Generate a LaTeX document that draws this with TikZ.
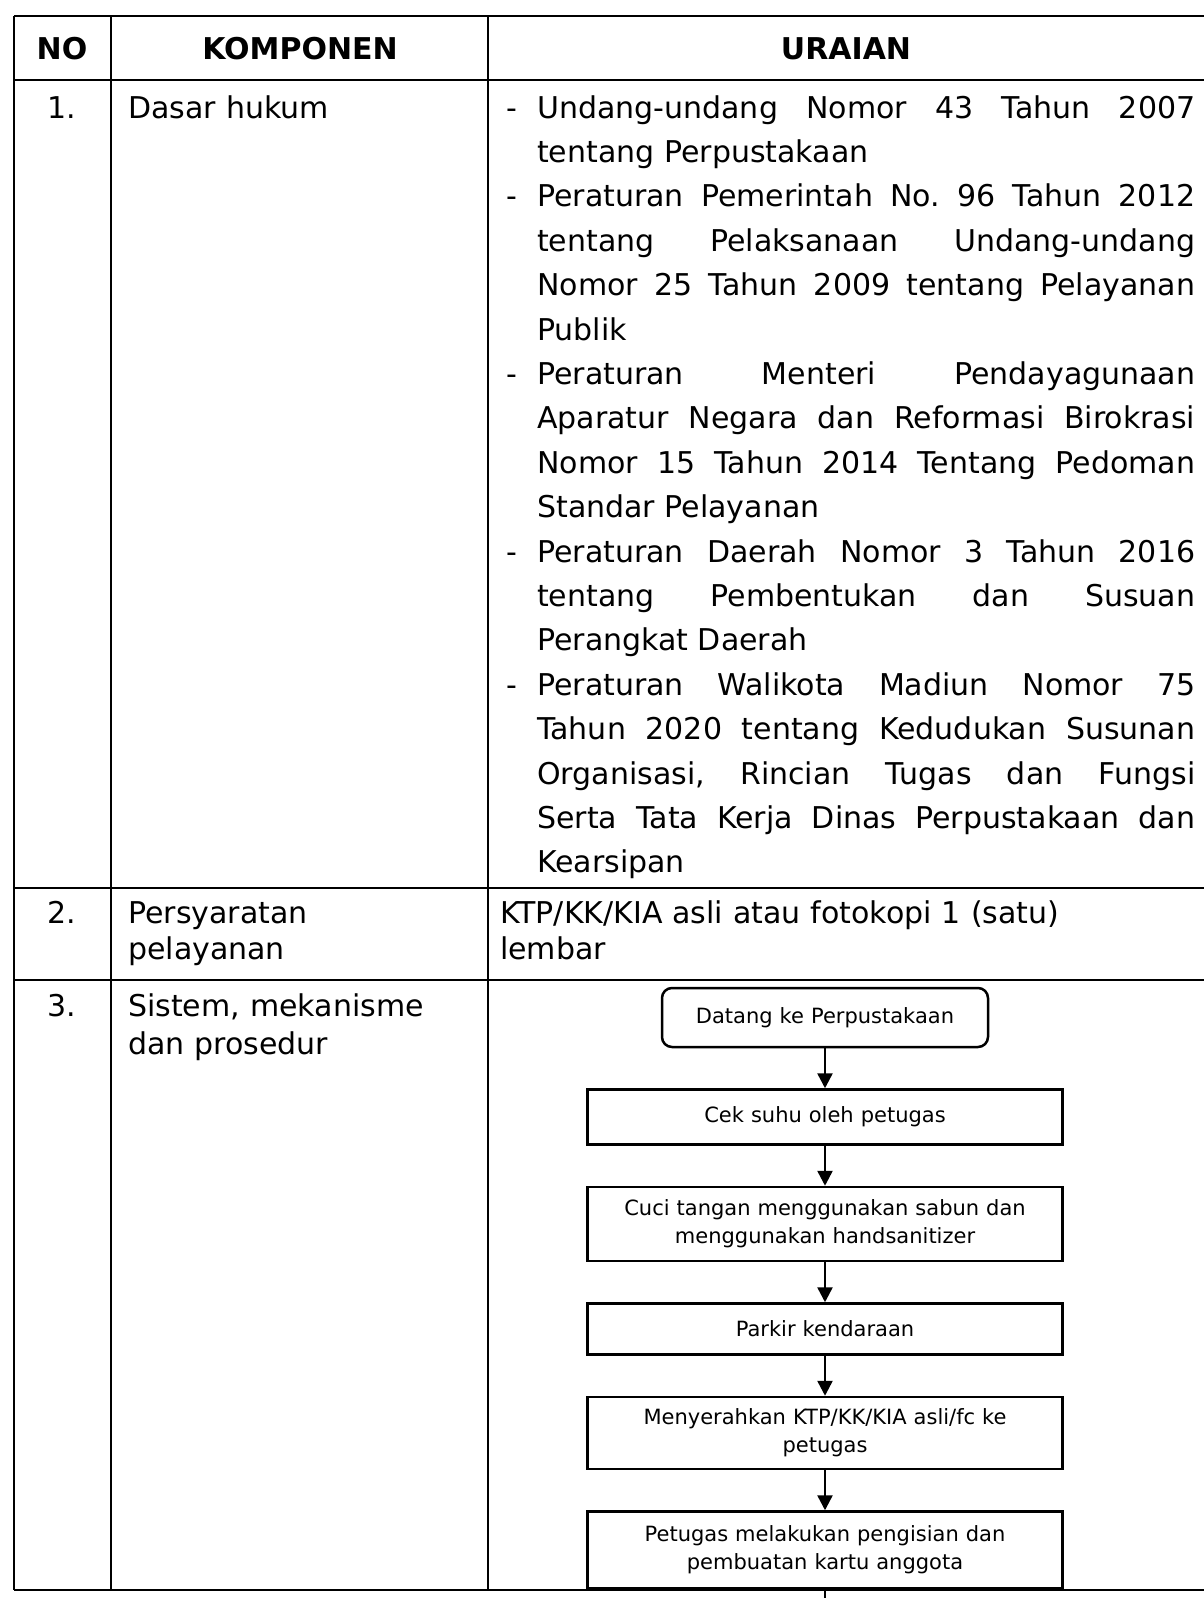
\documentclass[tikz,border=0pt]{standalone}
\usepackage{fontspec}
\setmainfont{DejaVu Sans}
\usetikzlibrary{positioning}
\usetikzlibrary{arrows.meta}
\newcommand{\butir}{\noindent\hangindent=31pt \hangafter=1 \makebox[31pt][l]{-}}
\newcommand{\rapat}{\frenchspacing\tolerance=10000 \hbadness=10000 \hyphenpenalty=10000 \exhyphenpenalty=10000 }

\begin{document}
\begin{tikzpicture}[x=1pt, y=-1pt,
        garis/.style={line width=2.5pt},
        judul/.style={anchor=base, inner sep=0pt, font=\fontsize{30}{36}\selectfont\bfseries},
        isi/.style={anchor=base west, inner sep=0pt, align=left},
        nomor/.style={anchor=base, inner sep=0pt, font=\fontsize{30}{36}\selectfont},
        langkah/.style={draw, line width=2.5pt, minimum width=475pt, text width=455pt,
                        inner xsep=10pt, inner ysep=0pt, align=center,
                        font=\fontsize{21}{28}\selectfont},
        panah/.style={line width=2.5pt, -{Triangle[width=15pt,length=15pt]}}]
        \fill[white] (0,0) rectangle (1204,1598);
        \useasboundingbox (0,0) rectangle (1204,1598);
        \foreach \y in {16,80,888,980,1590} {
           \draw[garis] (14,\y) -- (1204,\y);
        }
        \foreach \x in {14,111,488} {
           \draw[garis] (\x,16) -- (\x,1590);
        }
        \node[judul] (hno) at (62,59) {NO};
        \node[judul] (hkomp) at (300,59) {KOMPONEN};
        \node[judul] (hurai) at (846,59) {URAIAN};
        \foreach \lab/\y [count=\c] in {1./118, 2./923, 3./1016} {
           \node[nomor] (no\c) at (62,\y) {\lab};
        }
        \node[isi, text width=350pt, font=\fontsize{30}{44.4}\selectfont] (komp1) at (128,118) {Dasar hukum};
        \node[isi, text width=350pt, font=\fontsize{30}{36}\selectfont] (komp2) at (128,923) {Persyaratan\\pelayanan};
        \node[isi, text width=350pt, font=\fontsize{30}{38}\selectfont] (komp3) at (128,1016) {Sistem, mekanisme\\dan prosedur};
        \node[isi, text width=689pt, align=justify, font=\fontsize{30}{44.4}\selectfont\rapat] (dasar) at (506,118) {\butir Undang-undang Nomor 43 Tahun 2007\linebreak tentang Perpustakaan\par
           \butir Peraturan Pemerintah No. 96 Tahun 2012\linebreak tentang Pelaksanaan Undang-undang\linebreak Nomor 25 Tahun 2009 tentang Pelayanan\linebreak Publik\par
           \butir Peraturan Menteri Pendayagunaan\linebreak Aparatur Negara dan Reformasi Birokrasi\linebreak Nomor 15 Tahun 2014 Tentang Pedoman\linebreak Standar Pelayanan\par
           \butir Peraturan Daerah Nomor 3 Tahun 2016\linebreak tentang Pembentukan dan Susuan\linebreak Perangkat Daerah\par
           \butir Peraturan Walikota Madiun Nomor 75\linebreak Tahun 2020 tentang Kedudukan Susunan\linebreak Organisasi, Rincian Tugas dan Fungsi\linebreak Serta Tata Kerja Dinas Perpustakaan dan\linebreak Kearsipan\par};
        \node[isi, text width=700pt, font=\fontsize{30}{36}\selectfont] (syarat) at (500,923) {KTP/KK/KIA asli atau fotokopi 1 (satu)\\lembar};
        \node[langkah, rounded corners=10pt, minimum width=326pt, text width=306pt, minimum height=59pt] (s1) at (825,1017.5) {Datang ke Perpustakaan};
        \node[langkah, minimum height=55pt, below=40pt of s1] (s2) {Cek suhu oleh petugas};
        \node[langkah, minimum height=74pt, below=40pt of s2] (s3) {Cuci tangan menggunakan sabun dan\\menggunakan handsanitizer};
        \node[langkah, minimum height=51pt, below=40pt of s3] (s4) {Parkir kendaraan};
        \node[langkah, minimum height=72pt, below=40pt of s4] (s5) {Menyerahkan KTP/KK/KIA asli/fc ke\\petugas};
        \node[langkah, minimum height=77pt, below=40pt of s5] (s6) {Petugas melakukan pengisian dan\\pembuatan kartu anggota};
        \foreach \i [count=\j from 2] in {1,...,5} {
           \draw[panah] (s\i) -- (s\j);
        }
        \coordinate (lanjut) at (825,1598);
        \draw[garis] (s6) -- (lanjut);
      \end{tikzpicture}
\end{document}
